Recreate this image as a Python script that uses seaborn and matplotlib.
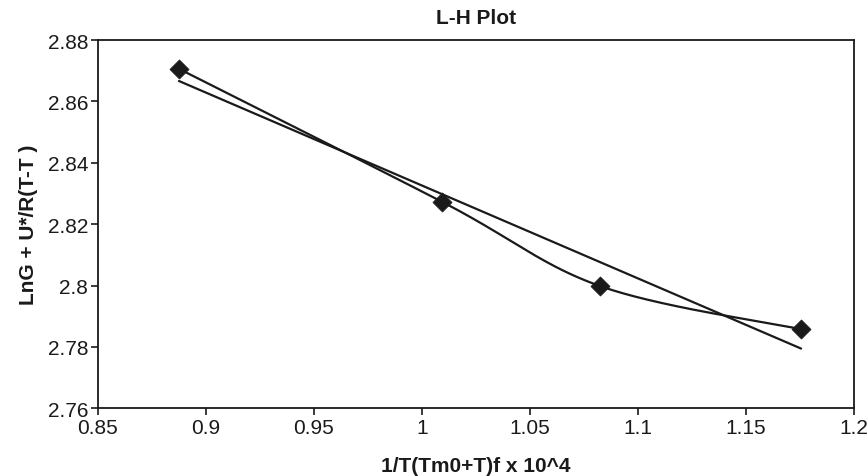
import numpy as np
import pandas as pd
import matplotlib
matplotlib.use("Agg")
import matplotlib.pyplot as plt
import seaborn as sns
from matplotlib.ticker import FuncFormatter

# Data
x_vals = [0.8876, 1.0093, 1.0826, 1.1755]
y_vals = [2.8706, 2.8273, 2.7998, 2.7858]
x_ticks = [0.85, 0.9, 0.95, 1.0, 1.05, 1.1, 1.15, 1.2]
y_ticks = [2.76, 2.78, 2.80, 2.82, 2.84, 2.86, 2.88]

title = "L-H Plot"
xlabel = "1/T(Tm0+T)f x 10^4"
ylabel = "LnG + U*/R(T-T )"

df = pd.DataFrame({"x": x_vals, "y": y_vals})

# Excel-like smoothed line (Catmull-Rom Bezier)
def smooth(xs, ys, n=60):
    P = np.column_stack([xs, ys])
    m = len(P)
    out = []
    for i in range(m - 1):
        p0 = P[i - 1] if i > 0 else P[i]
        p1 = P[i]
        p2 = P[i + 1]
        p3 = P[i + 2] if i + 2 < m else P[i + 1]
        c1 = p1 + (p2 - p0) / 6.0
        c2 = p2 - (p3 - p1) / 6.0
        t = np.linspace(0, 1, n)[:, None]
        seg = ((1 - t) ** 3) * p1 + 3 * ((1 - t) ** 2) * t * c1 + 3 * (1 - t) * t ** 2 * c2 + t ** 3 * p2
        out.append(seg if i == 0 else seg[1:])
    arr = np.vstack(out)
    return pd.DataFrame({"x": arr[:, 0], "y": arr[:, 1]})

curve = smooth(x_vals, y_vals)

sns.set_theme(style="white")
plt.rcParams["font.family"] = ["Liberation Sans", "DejaVu Sans"]

fig = plt.figure(figsize=(8.68, 4.77), dpi=100)
ax = fig.add_axes([0.1126, 0.1419, 0.8713, 0.7721])

sns.lineplot(data=curve, x="x", y="y", sort=False, color="#1a1a1a", lw=1.6, ax=ax)
sns.regplot(data=df, x="x", y="y", ci=None, scatter=False, truncate=True,
            line_kws=dict(color="#1a1a1a", lw=1.6), ax=ax)
sns.scatterplot(data=df, x="x", y="y", marker="D", s=95, color="#1a1a1a",
                edgecolor="#1a1a1a", linewidth=0.5, zorder=5, ax=ax)

ax.set_xlim(0.85, 1.2)
ax.set_ylim(2.76, 2.88)
ax.set_xticks(x_ticks)
ax.set_yticks(y_ticks)
fmt = FuncFormatter(lambda v, p: f"{v:g}")
ax.xaxis.set_major_formatter(fmt)
ax.yaxis.set_major_formatter(fmt)

for s in ax.spines.values():
    s.set_visible(True)
    s.set_color("#1a1a1a")
    s.set_linewidth(1.3)

ax.tick_params(axis="both", direction="out", length=5, width=1.2, color="#1a1a1a",
               labelsize=15, labelcolor="#1a1a1a", pad=2,
               bottom=True, left=True, top=False, right=False)

ax.set_title(title, fontsize=15, fontweight="bold", color="#1a1a1a", pad=12)
ax.set_xlabel(xlabel, fontsize=15, fontweight="bold", color="#1a1a1a", labelpad=14)
ax.set_ylabel(ylabel, fontsize=15, fontweight="bold", color="#1a1a1a", labelpad=7)

fig.savefig("out.png", dpi=100)
